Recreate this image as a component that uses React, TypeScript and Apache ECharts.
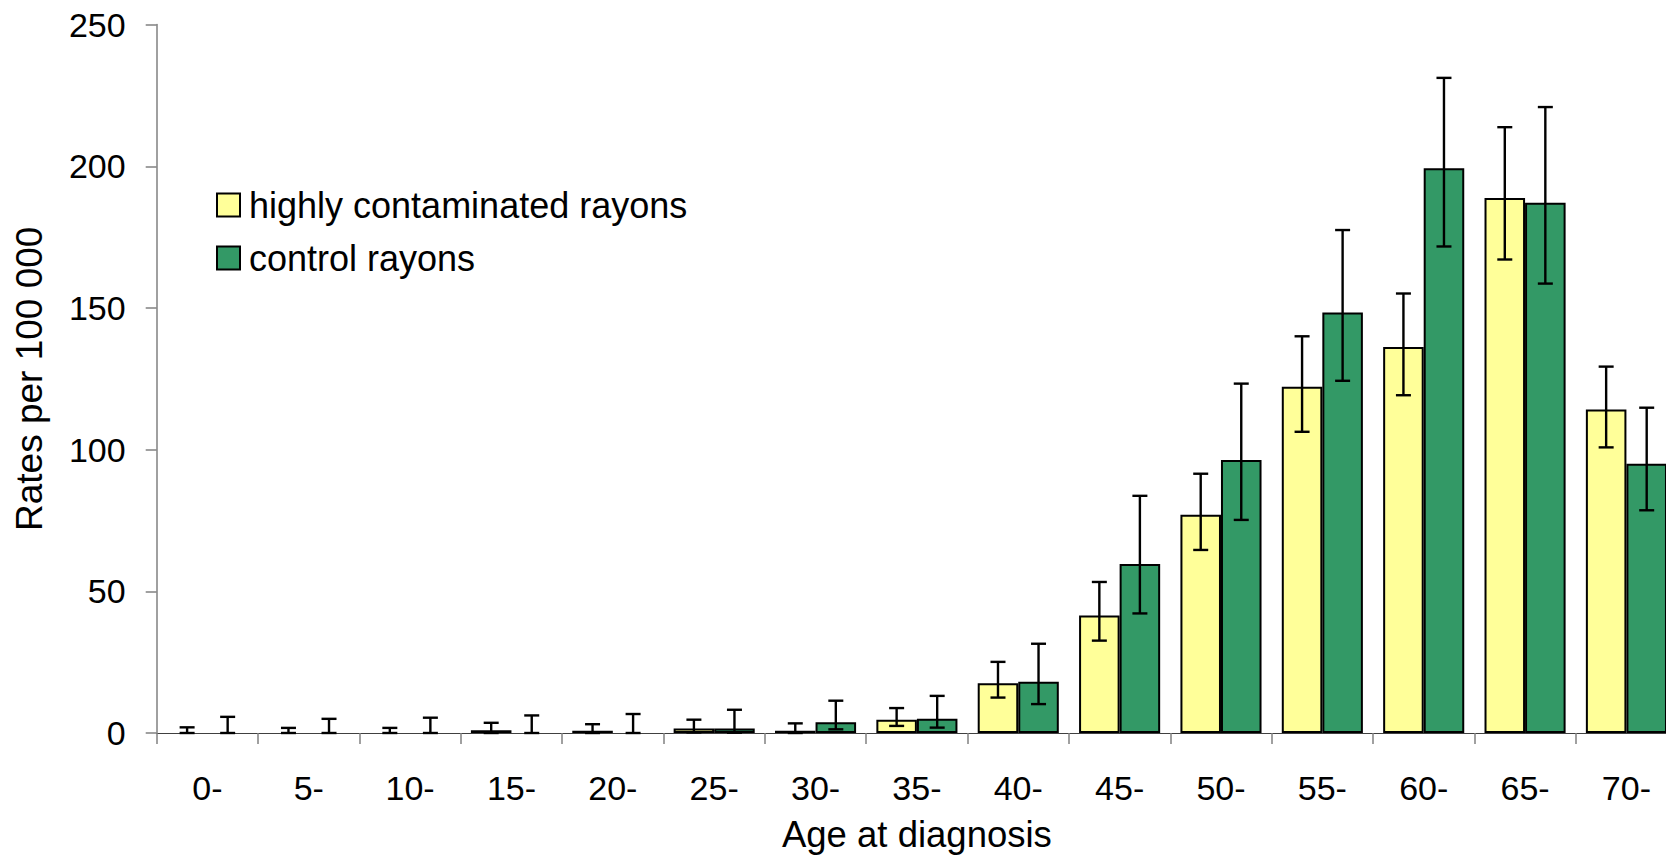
import React, { useEffect, useRef } from "react";
import * as echarts from "echarts";

const categories = ["0-", "5-", "10-", "15-", "20-", "25-", "30-", "35-", "40-", "45-", "50-", "55-", "60-", "65-", "70-"];
const highRates = [0, 0, 0, 1.0, 0.8, 1.6, 0.8, 4.7, 17.6, 41.5, 77.0, 122.2, 136.2, 188.8, 114.2];
const highLower = [0, 0, 0, 0, 0, 0.2, 0, 2.5, 12.5, 32.6, 64.6, 106.3, 119.2, 167.1, 100.8];
const highUpper = [2.0, 1.8, 1.8, 3.6, 3.1, 4.7, 3.4, 8.8, 25.1, 53.3, 91.5, 140.0, 155.1, 213.8, 129.3];
const ctrlRates = [0, 0, 0, 0, 0, 1.6, 3.8, 5.0, 18.1, 59.6, 96.3, 148.4, 199.3, 187.1, 95.0];
const ctrlLower = [0, 0, 0, 0, 0, 0.1, 1.3, 1.9, 10.2, 42.2, 75.2, 124.3, 171.7, 158.6, 78.6];
const ctrlUpper = [5.7, 5.0, 5.4, 6.2, 6.7, 8.2, 11.4, 13.1, 31.5, 83.7, 123.3, 177.5, 231.2, 220.9, 114.8];
const yTicks = [0, 50, 100, 150, 200, 250];

const seriesNames = ["highly contaminated rayons", "control rayons"];
const FONT = "'Liberation Sans', Arial, Helvetica, sans-serif";

function errorSeries(lower: number[], upper: number[], offset: number) {
  return {
    type: "custom",
    silent: true,
    z: 5,
    data: lower.map((l, i) => [i, l, upper[i]]),
    encode: { x: 0, y: [1, 2] },
    renderItem: (params: any, api: any) => {
      const catW = api.size([1, 0])[0];
      const cx = api.coord([api.value(0), 0])[0] + offset * catW;
      const yl = api.coord([api.value(0), api.value(1)])[1];
      const yu = api.coord([api.value(0), api.value(2)])[1];
      const half = 7.5;
      const style = { stroke: "#000", lineWidth: 2.4 };
      return {
        type: "group",
        children: [
          { type: "line", shape: { x1: cx, y1: yl, x2: cx, y2: yu }, style },
          { type: "line", shape: { x1: cx - half, y1: yu, x2: cx + half, y2: yu }, style },
          { type: "line", shape: { x1: cx - half, y1: yl, x2: cx + half, y2: yl }, style },
        ],
      };
    },
  };
}

const nz = (arr: number[]) => arr.map((v) => (v === 0 ? null : v));

export default function App() {
  const ref = useRef<HTMLDivElement>(null);
  useEffect(() => {
    if (!ref.current) return;
    const chart = echarts.init(ref.current, null, { renderer: "svg" });
    chart.setOption({
      animation: false,
      backgroundColor: "#fff",
      textStyle: { fontFamily: FONT },
      grid: {
        left: 156.7,
        width: 1520.4,
        top: 24.6,
        bottom: 123,
        containLabel: false,
        outerBoundsMode: "none",
      },
      legend: {
        orient: "vertical",
        left: 211,
        top: 182,
        itemWidth: 23,
        itemHeight: 23,
        itemGap: 17,
        icon: "rect",
        data: seriesNames,
        textStyle: { fontSize: 36, color: "#000", fontFamily: FONT, padding: [0, 0, 0, 4] },
      },
      xAxis: {
        type: "category",
        data: categories,
        name: "Age at diagnosis",
        nameLocation: "middle",
        nameGap: 83,
        nameTextStyle: { fontSize: 36.5, color: "#000", fontFamily: FONT },
        axisLine: { lineStyle: { color: "#404040", width: 1 } },
        axisTick: { show: true, length: 11, lineStyle: { color: "#808080", width: 1.5 } },
        axisLabel: { fontSize: 34, color: "#000", margin: 38, fontFamily: FONT },
      },
      yAxis: {
        type: "value",
        min: yTicks[0],
        max: yTicks[yTicks.length - 1],
        interval: 50,
        name: "Rates per 100 000",
        nameLocation: "middle",
        nameGap: 109,
        nameTextStyle: { fontSize: 37, color: "#000", fontFamily: FONT },
        axisLine: { show: true, lineStyle: { color: "#808080", width: 1.5 } },
        axisTick: { show: true, length: 11, lineStyle: { color: "#808080", width: 1.5 } },
        axisLabel: { fontSize: 34, color: "#000", margin: 31, fontFamily: FONT },
        splitLine: { show: false },
      },
      series: [
        {
          name: seriesNames[0],
          type: "bar",
          data: nz(highRates),
          barGap: "0%",
          barCategoryGap: "20%",
          itemStyle: { color: "#FFFF99", borderColor: "#000", borderWidth: 2 },
        },
        {
          name: seriesNames[1],
          type: "bar",
          data: nz(ctrlRates),
          barGap: "0%",
          barCategoryGap: "20%",
          itemStyle: { color: "#339966", borderColor: "#000", borderWidth: 2 },
        },
        errorSeries(highLower, highUpper, -0.2),
        errorSeries(ctrlLower, ctrlUpper, 0.2),
      ],
    });
    return () => chart.dispose();
  }, []);
  return (
    <div
      ref={ref}
      style={{ position: "fixed", left: 0, top: 0, width: 1666, height: 856, background: "#fff" }}
    />
  );
}
